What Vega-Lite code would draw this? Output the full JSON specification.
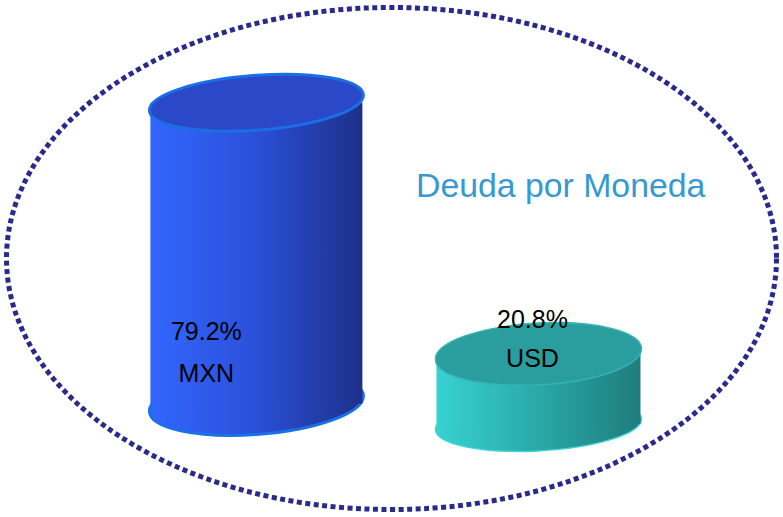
{
  "$schema": "https://vega.github.io/schema/vega-lite/v6.json",
  "width": 783,
  "height": 517,
  "autosize": {"type": "fit", "contains": "padding"},
  "padding": 0,
  "background": "white",
  "config": {"view": {"stroke": null}},
  "data": {"values": [{"currency": "MXN", "value": 79.2}, {"currency": "USD", "value": 20.8}]},
  "layer": [
    {
      "data": {"values": [{"k": 1}]},
      "mark": {"type": "point", "shape": "M 1,0 C 1,0.3601 0.5523,0.652 0,0.652 C -0.5523,0.652 -1,0.3601 -1,0 C -1,-0.3601 -0.5523,-0.652 0,-0.652 C 0.5523,-0.652 1,-0.3601 1,0 Z", "size": 592900, "filled": false, "color": "#2b2a8c", "stroke": "#2b2a8c", "strokeWidth": 5, "strokeDash": [5, 3.5], "opacity": 1},
      "encoding": {}
    },
    {
      "transform": [{"filter": "datum.currency === 'MXN'"}],
      "mark": {"type": "point", "shape": "M 1,-0.07 C 1,0.0902 0.5523,0.2513 0,0.29 C -0.5523,0.3287 -1,0.2302 -1,0.07 C -1,-0.0902 -0.5523,-0.2513 0,-0.29 C 0.5523,-0.3287 1,-0.2302 1,-0.07 Z", "size": 45796, "filled": true, "opacity": 1, "fill": {"gradient": "linear", "x1": 0, "x2": 1, "y1": 0, "y2": 0, "stops": [{"offset": 0, "color": "#3366ff"}, {"offset": 0.5, "color": "#2a50d8"}, {"offset": 1, "color": "#1e3088"}]}, "stroke": "#1a70e8", "strokeWidth": 3},
      "encoding": {
        "x": {"field": "currency", "type": "nominal", "scale": {"type": "band", "domain": ["MXN", "USD"], "paddingInner": 0.263, "paddingOuter": 0.5052, "align": 0.5208}, "axis": null},
        "y": {"datum": 9.3, "type": "quantitative", "scale": {"domain": [-16.4, 102.4], "nice": false, "zero": false}, "axis": null}
      }
    },
    {
      "transform": [{"filter": "datum.currency === 'MXN'"}],
      "mark": {"type": "bar", "width": 212, "fill": {"gradient": "linear", "x1": 0, "x2": 1, "y1": 0, "y2": 0, "stops": [{"offset": 0, "color": "#3366ff"}, {"offset": 0.5, "color": "#2a50d8"}, {"offset": 1, "color": "#1e3088"}]}, "opacity": 1},
      "encoding": {
        "x": {"field": "currency", "type": "nominal", "axis": null},
        "y": {"field": "value", "type": "quantitative", "axis": null},
        "y2": {"datum": 9.3}
      }
    },
    {
      "transform": [{"filter": "datum.currency === 'MXN'"}],
      "mark": {"type": "point", "shape": "M 1,-0.07 C 1,0.0719 0.5523,0.2183 0,0.257 C -0.5523,0.2957 -1,0.2119 -1,0.07 C -1,-0.0719 -0.5523,-0.2183 0,-0.257 C 0.5523,-0.2957 1,-0.2119 1,-0.07 Z", "size": 45796, "filled": true, "opacity": 1, "fill": "#2a48c8", "stroke": "#1a6ee6", "strokeWidth": 3},
      "encoding": {
        "x": {"field": "currency", "type": "nominal", "axis": null},
        "y": {"field": "value", "type": "quantitative", "axis": null}
      }
    },
    {
      "transform": [{"filter": "datum.currency === 'USD'"}],
      "mark": {"type": "point", "shape": "M 1,-0.05 C 1,0.0936 0.5523,0.2324 0,0.26 C -0.5523,0.2876 -1,0.1936 -1,0.05 C -1,-0.0936 -0.5523,-0.2324 0,-0.26 C 0.5523,-0.2876 1,-0.1936 1,-0.05 Z", "size": 42436, "filled": true, "opacity": 1, "fill": {"gradient": "linear", "x1": 0, "x2": 1, "y1": 0, "y2": 0, "stops": [{"offset": 0, "color": "#38d2d2"}, {"offset": 0.5, "color": "#2aa8a8"}, {"offset": 1, "color": "#1f7c7c"}]}, "stroke": "#3fd4d4", "strokeWidth": 1.5},
      "encoding": {
        "x": {"field": "currency", "type": "nominal", "axis": null},
        "y": {"datum": 4.5, "type": "quantitative", "axis": null}
      }
    },
    {
      "transform": [{"filter": "datum.currency === 'USD'"}],
      "mark": {"type": "bar", "width": 204, "fill": {"gradient": "linear", "x1": 0, "x2": 1, "y1": 0, "y2": 0, "stops": [{"offset": 0, "color": "#38d2d2"}, {"offset": 0.5, "color": "#2aa8a8"}, {"offset": 1, "color": "#1f7c7c"}]}, "opacity": 1},
      "encoding": {
        "x": {"field": "currency", "type": "nominal", "axis": null},
        "y": {"field": "value", "type": "quantitative", "axis": null},
        "y2": {"datum": 4.5}
      }
    },
    {
      "transform": [{"filter": "datum.currency === 'USD'"}],
      "mark": {"type": "point", "shape": "M 1,-0.05 C 1,0.1157 0.5523,0.2724 0,0.3 C -0.5523,0.3276 -1,0.2157 -1,0.05 C -1,-0.1157 -0.5523,-0.2724 0,-0.3 C 0.5523,-0.3276 1,-0.2157 1,-0.05 Z", "size": 42436, "filled": true, "opacity": 1, "fill": "#2a9e9e", "stroke": "#33b3b3", "strokeWidth": 1.5},
      "encoding": {
        "x": {"field": "currency", "type": "nominal", "axis": null},
        "y": {"field": "value", "type": "quantitative", "axis": null}
      }
    },
    {
      "transform": [{"filter": "datum.currency === 'MXN'"}, {"calculate": "format(datum.value, '.1f') + '%'", "as": "pct"}],
      "mark": {"type": "text", "font": "Liberation Sans", "fontSize": 25, "color": "#000000", "align": "center", "baseline": "alphabetic", "dx": -50, "dy": -63},
      "encoding": {
        "x": {"field": "currency", "type": "nominal", "axis": null},
        "y": {"datum": 9.3, "type": "quantitative", "axis": null},
        "text": {"field": "pct"}
      }
    },
    {
      "transform": [{"filter": "datum.currency === 'MXN'"}],
      "mark": {"type": "text", "font": "Liberation Sans", "fontSize": 25, "color": "#000000", "align": "center", "baseline": "alphabetic", "dx": -50, "dy": -21},
      "encoding": {
        "x": {"field": "currency", "type": "nominal", "axis": null},
        "y": {"datum": 9.3, "type": "quantitative", "axis": null},
        "text": {"field": "currency"}
      }
    },
    {
      "transform": [{"filter": "datum.currency === 'USD'"}, {"calculate": "format(datum.value, '.1f') + '%'", "as": "pct"}],
      "mark": {"type": "text", "font": "Liberation Sans", "fontSize": 25, "color": "#000000", "align": "center", "baseline": "alphabetic", "dx": -6, "dy": -96},
      "encoding": {
        "x": {"field": "currency", "type": "nominal", "axis": null},
        "y": {"datum": 4.5, "type": "quantitative", "axis": null},
        "text": {"field": "pct"}
      }
    },
    {
      "transform": [{"filter": "datum.currency === 'USD'"}],
      "mark": {"type": "text", "font": "Liberation Sans", "fontSize": 25, "color": "#000000", "align": "center", "baseline": "alphabetic", "dx": -6, "dy": -57},
      "encoding": {
        "x": {"field": "currency", "type": "nominal", "axis": null},
        "y": {"datum": 4.5, "type": "quantitative", "axis": null},
        "text": {"field": "currency"}
      }
    },
    {
      "data": {"values": [{"title": "Deuda por Moneda"}]},
      "mark": {"type": "text", "font": "Liberation Sans", "fontSize": 33.8, "color": "#3799cf", "align": "left", "baseline": "alphabetic", "dx": 24.5, "dy": -61.5},
      "encoding": {
        "text": {"field": "title"}
      }
    }
  ]
}
